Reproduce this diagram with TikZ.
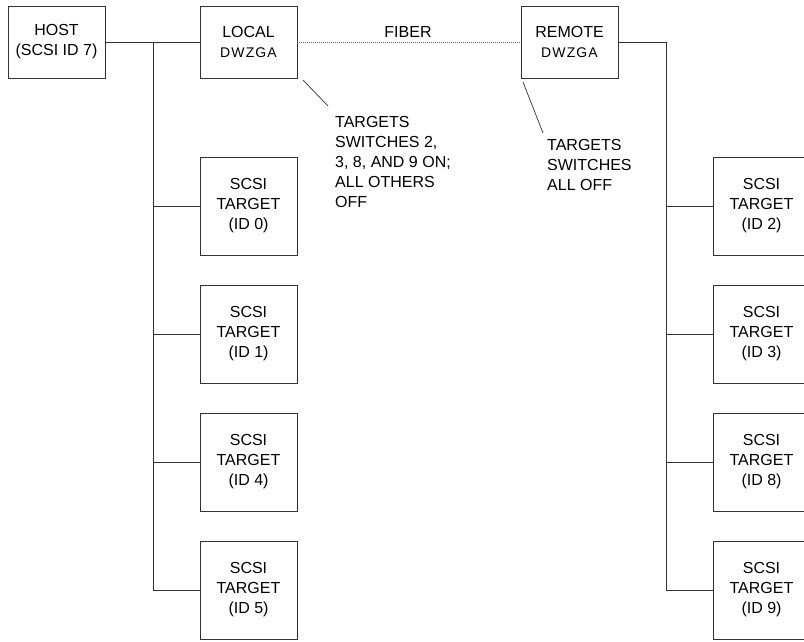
\documentclass[tikz,border=0pt]{standalone}
\usepackage{fontspec}
\setmainfont{Liberation Sans}
\newfontfamily\spacedfont[LetterSpace=8]{Liberation Sans}
\begin{document}
\begin{tikzpicture}[x=1pt,y=-1pt,
  txt/.style={font=\fontsize{16}{20}\selectfont, align=center, text=black},
  topbox/.style={txt, draw=black!80, line width=0.9pt, minimum width=97pt, minimum height=72pt, inner sep=0pt},
  tgtbox/.style={txt, draw=black!80, line width=0.9pt, minimum width=97pt, minimum height=98pt, inner sep=0pt},
  wire/.style={draw=black!80, line width=0.9pt},
  fiberline/.style={draw=black!60, line width=0.9pt, dash pattern=on 1pt off 1pt},
  note/.style={font=\fontsize{16}{20}\selectfont, align=left, inner sep=0pt, anchor=north west, text=black}]
\useasboundingbox (0,0) rectangle (804,641);
\newcommand{\dw}{{\spacedfont\fontsize{14}{20}\selectfont DWZGA}}
% top row
\node[topbox] (host) at (56.5,42) {HOST\\(SCSI ID 7)};
\node[topbox] (local) at (248.5,42) {LOCAL\\\dw};
\node[topbox] (remote) at (569.5,42) {REMOTE\\\dw};
\node[txt, inner sep=0pt] (fiber) at (408,32) {FIBER};
% left targets
\node[tgtbox] (t0) at (248.5,206) {SCSI\\TARGET\\(ID 0)};
\node[tgtbox] (t1) at (248.5,334) {SCSI\\TARGET\\(ID 1)};
\node[tgtbox] (t4) at (248.5,462) {SCSI\\TARGET\\(ID 4)};
\node[tgtbox] (t5) at (248.5,590) {SCSI\\TARGET\\(ID 5)};
% right targets
\node[tgtbox] (r2) at (761.5,206) {SCSI\\TARGET\\(ID 2)};
\node[tgtbox] (r3) at (761.5,334) {SCSI\\TARGET\\(ID 3)};
\node[tgtbox] (r8) at (761.5,462) {SCSI\\TARGET\\(ID 8)};
\node[tgtbox] (r9) at (761.5,590) {SCSI\\TARGET\\(ID 9)};
% notes
\node[note] (lnote) at (335,116) {TARGETS\\SWITCHES 2,\\3, 8, AND 9 ON;\\ALL OTHERS\\OFF};
\node[note] (rnote) at (547,139) {TARGETS\\SWITCHES\\ALL OFF};
% buses
\coordinate (lb) at (153,42);
\coordinate (rb) at (666,42);
\draw[wire] (host.east) -- (local.west);
\draw[wire] (lb) |- (t5.west);
\draw[wire] (t0.west) -- (t0.west -| lb);
\draw[wire] (t1.west) -- (t1.west -| lb);
\draw[wire] (t4.west) -- (t4.west -| lb);
\draw[wire] (remote.east) -- (rb) |- (r9.west);
\draw[wire] (r2.west) -- (r2.west -| rb);
\draw[wire] (r3.west) -- (r3.west -| rb);
\draw[wire] (r8.west) -- (r8.west -| rb);
\draw[fiberline] (local.east) -- (remote.west);
% leaders
\coordinate (l1) at (303,80);
\coordinate (l2) at (328,106);
\coordinate (m1) at (523,82);
\coordinate (m2) at (543,133);
\draw[wire, line width=0.7pt] (l1) -- (l2);
\draw[wire, line width=0.7pt] (m1) -- (m2);
\end{tikzpicture}
\end{document}
